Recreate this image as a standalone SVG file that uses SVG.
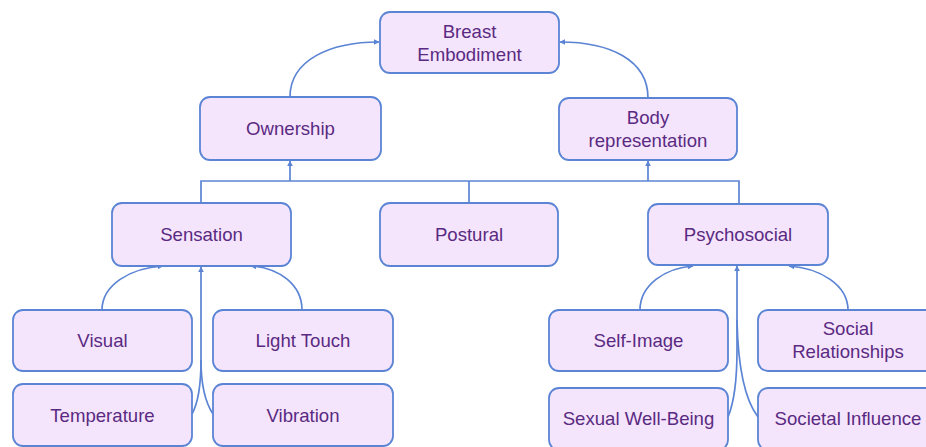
<svg xmlns="http://www.w3.org/2000/svg" width="926" height="447" viewBox="0 0 926 447">
<style>
.box{fill:#F5E5FC;stroke:#5B84D4;stroke-width:1.8}
.t{font-family:"Liberation Sans",Arial,sans-serif;font-size:18.6px;fill:#5A2A82;text-anchor:middle}
.c{fill:none;stroke:#5B84D4;stroke-width:1.7}
</style>
<defs>
<marker id="ah" viewBox="0 0 10 10" refX="9" refY="5" markerWidth="6" markerHeight="6" markerUnits="userSpaceOnUse" orient="auto">
<path d="M0,0 L10,5 L0,10 z" fill="#5B84D4"/>
</marker>
</defs>
<rect width="926" height="447" fill="#fff"/>
<g id="connectors">
<path class="c" d="M290,97 C290,60 330,42 379,42" marker-end="url(#ah)"/>
<path class="c" d="M648,98 C648,60 610,42 560,42" marker-end="url(#ah)"/>
<path class="c" d="M201,203 V181 H739 V204"/>
<path class="c" d="M469,181 V203"/>
<path class="c" d="M290,181 V161" marker-end="url(#ah)"/>
<path class="c" d="M648,181 V161" marker-end="url(#ah)"/>
<path class="c" d="M102,310 C102,285 130,268 163,266" marker-end="url(#ah)"/>
<path class="c" d="M302,310 C302,285 280,268 251,266" marker-end="url(#ah)"/>
<path class="c" d="M192,414 C197,405 201,390 201,360 V267" marker-end="url(#ah)"/>
<path class="c" d="M213,414 C207,405 201,390 201,360"/>
<path class="c" d="M640,310 C640,285 665,268 693,266" marker-end="url(#ah)"/>
<path class="c" d="M848,310 C848,285 820,268 789,266" marker-end="url(#ah)"/>
<path class="c" d="M728,417 C733,405 737,385 737,350 V266" marker-end="url(#ah)"/>
<path class="c" d="M758,417 C745,400 738,370 737,320"/>
</g>
<g id="breast-embodiment"><rect class="box" x="380" y="12" width="179" height="61" rx="10"/><text class="t" x="469.5" y="38">Breast</text><text class="t" x="469.5" y="61">Embodiment</text></g>
<g id="ownership"><rect class="box" x="200" y="97" width="181" height="63" rx="10"/><text class="t" x="290.5" y="135">Ownership</text></g>
<g id="body-representation"><rect class="box" x="559" y="98" width="178" height="62" rx="10"/><text class="t" x="648" y="124">Body</text><text class="t" x="648" y="147">representation</text></g>
<g id="sensation"><rect class="box" x="112" y="203" width="179" height="63" rx="10"/><text class="t" x="201.5" y="241">Sensation</text></g>
<g id="postural"><rect class="box" x="380" y="203" width="178" height="63" rx="10"/><text class="t" x="469" y="241">Postural</text></g>
<g id="psychosocial"><rect class="box" x="648" y="204" width="180" height="61" rx="10"/><text class="t" x="738" y="241">Psychosocial</text></g>
<g id="visual"><rect class="box" x="13" y="310" width="179" height="61" rx="10"/><text class="t" x="102.5" y="347">Visual</text></g>
<g id="light-touch"><rect class="box" x="213" y="310" width="180" height="61" rx="10"/><text class="t" x="303" y="347">Light Touch</text></g>
<g id="temperature"><rect class="box" x="13" y="384" width="179" height="62" rx="10"/><text class="t" x="102.5" y="422">Temperature</text></g>
<g id="vibration"><rect class="box" x="213" y="384" width="180" height="62" rx="10"/><text class="t" x="303" y="422">Vibration</text></g>
<g id="self-image"><rect class="box" x="549" y="310" width="179" height="61" rx="10"/><text class="t" x="638.5" y="347">Self-Image</text></g>
<g id="social-relationships"><rect class="box" x="758" y="310" width="180" height="61" rx="10"/><text class="t" x="848" y="335">Social</text><text class="t" x="848" y="358">Relationships</text></g>
<g id="sexual-well-being"><rect class="box" x="549" y="388" width="179" height="62" rx="10"/><text class="t" x="638.5" y="425">Sexual Well-Being</text></g>
<g id="societal-influence"><rect class="box" x="758" y="388" width="180" height="62" rx="10"/><text class="t" x="848" y="425">Societal Influence</text></g>
</svg>
